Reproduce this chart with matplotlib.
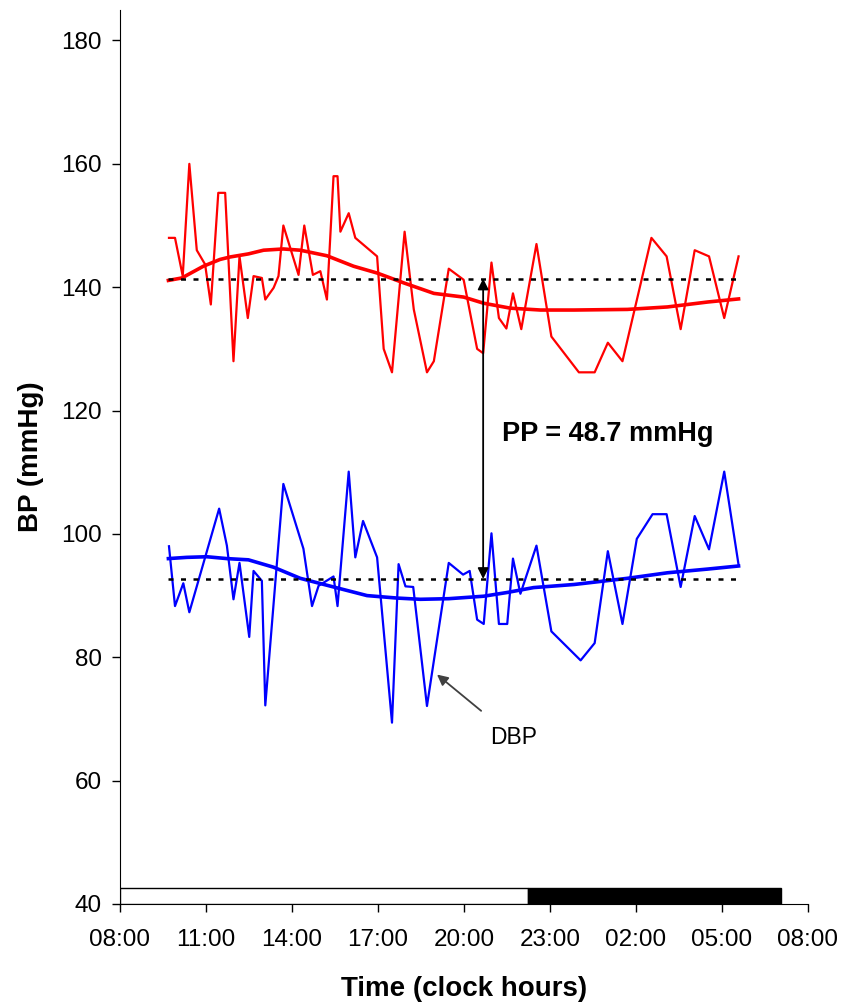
import matplotlib
matplotlib.use("Agg")
import matplotlib.pyplot as plt

plt.rcParams['font.family'] = ['Liberation Sans', 'DejaVu Sans']

# clock hours (values past 24 are next morning)
sbp_t = [9.71, 9.92, 10.19, 10.42, 10.68, 10.97, 11.17, 11.43, 11.67, 11.96,
         12.17, 12.46, 12.66, 12.95, 13.07, 13.36, 13.53, 13.70, 14.23, 14.43,
         14.73, 14.99, 15.22, 15.45, 15.59, 15.69, 15.98, 16.21, 16.97, 17.20,
         17.49, 17.93, 18.25, 18.71, 18.95, 19.47, 19.99, 20.46, 20.67, 20.96,
         21.22, 21.48, 21.71, 22.00, 22.53, 23.05, 24.01, 24.56, 25.02, 25.53,
         26.54, 27.07, 27.56, 28.05, 28.55, 29.08, 29.58]
sbp = [148, 148, 141.8, 160, 146, 143.7, 137.2, 155.3, 155.3, 128,
       145, 135, 141.8, 141.5, 138, 139.9, 141.8, 150, 142, 150,
       142, 142.6, 138, 158, 158, 149, 152, 148, 145, 130,
       126.2, 149, 136.4, 126.2, 128, 143, 141.2, 130, 129.3, 144,
       135, 133.3, 139, 133.2, 147, 132, 126.2, 126.2, 131, 128,
       148, 145, 133.2, 146, 145, 135, 145]

dbp_t = [9.71, 9.92, 10.21, 10.42, 11.46, 11.73, 11.96, 12.17, 12.51, 12.66,
         12.95, 13.07, 13.70, 14.40, 14.70, 14.93, 15.45, 15.59, 15.98, 16.21,
         16.48, 16.97, 17.49, 17.72, 17.96, 18.23, 18.71, 19.47, 19.97, 20.20,
         20.46, 20.69, 20.96, 21.22, 21.51, 21.71, 21.97, 22.53, 23.05, 24.07,
         24.56, 25.02, 25.53, 26.03, 26.58, 27.07, 27.56, 28.05, 28.55, 29.08,
         29.58]
dbp = [98, 88.3, 92, 87.3, 104.1, 98.1, 89.4, 95.3, 83.3, 94,
       92.4, 72.2, 108.1, 97.6, 88.3, 91.6, 93.1, 88.3, 110.1, 96.2,
       102.1, 96.2, 69.4, 95.1, 91.5, 91.4, 72.1, 95.3, 93.4, 94,
       86.1, 85.4, 100.1, 85.4, 85.4, 96, 90.3, 98.1, 84.2, 79.5,
       82.3, 97.2, 85.4, 99.2, 103.2, 103.2, 91.4, 102.9, 97.5, 110.1,
       95]

# trend curves
sbp_trend_t = [9.69, 10.16, 10.91, 11.49, 11.84, 12.48, 13.01, 13.70, 14.29, 15.22,
               16.15, 16.97, 17.90, 18.95, 19.99, 20.69, 21.62, 22.67, 23.84, 25.70,
               27.10, 28.50, 29.58]
sbp_trend = [141.1, 141.5, 143.4, 144.5, 144.9, 145.4, 146.0, 146.2, 146.0, 145.1,
             143.4, 142.3, 140.7, 139.0, 138.4, 137.4, 136.6, 136.3, 136.3, 136.4,
             136.8, 137.6, 138.1]
dbp_trend_t = [9.69, 10.33, 11.03, 11.73, 12.48, 13.36, 14.29, 15.45, 16.62, 17.67,
               18.48, 19.47, 20.69, 21.50, 22.43, 23.84, 25.70, 27.10, 28.50, 29.58]
dbp_trend = [96.0, 96.2, 96.3, 96.0, 95.8, 94.6, 92.8, 91.4, 90.0, 89.6,
             89.4, 89.5, 89.9, 90.5, 91.3, 91.8, 92.8, 93.7, 94.3, 94.8]

sbp_mean = 141.4
dbp_mean = 92.7
mean_span = [9.68, 29.56]

day_span = [8.0, 22.25]
night_span = [22.25, 31.06]

xticks = [8, 11, 14, 17, 20, 23, 26, 29, 32]
xlabels = ['08:00', '11:00', '14:00', '17:00', '20:00', '23:00', '02:00', '05:00', '08:00']
yticks = [40, 60, 80, 100, 120, 140, 160, 180]

fig = plt.figure(figsize=(8.46, 10.06), dpi=100)
ax = fig.add_axes([0.1418, 0.1014, 0.8132, 0.889])

ax.plot(sbp_t, sbp, color='#ff0000', lw=1.6)
ax.plot(dbp_t, dbp, color='#0000ff', lw=1.6)
ax.plot(sbp_trend_t, sbp_trend, color='#ff0000', lw=2.6)
ax.plot(dbp_trend_t, dbp_trend, color='#0000ff', lw=2.6)

ax.plot(mean_span, [sbp_mean, sbp_mean], color='black', lw=1.8, ls=(0, (2, 3)))
ax.plot(mean_span, [dbp_mean, dbp_mean], color='black', lw=1.8, ls=(0, (2, 3)))

# day / night bar along the bottom
ax.barh(41.3, day_span[1] - day_span[0], left=day_span[0], height=2.6,
        color='white', edgecolor='black', lw=1.0, zorder=3)
ax.barh(41.3, night_span[1] - night_span[0], left=night_span[0], height=2.6,
        color='black', edgecolor='black', lw=1.0, zorder=3)

# pulse pressure arrow
ax.annotate('', xy=(20.67, sbp_mean), xytext=(20.67, dbp_mean),
            arrowprops=dict(arrowstyle='<|-|>', color='black', lw=1.3,
                            mutation_scale=16, shrinkA=0, shrinkB=0))
ax.text(21.33, 116.2, 'PP = 48.7 mmHg', fontsize=19.5, fontweight='bold',
        ha='left', va='center')

ax.annotate('DBP', xy=(19.06, 77.2), xytext=(21.73, 67.0), fontsize=16.5,
            ha='center', va='center',
            arrowprops=dict(arrowstyle='-|>', color='#404040', lw=1.3,
                            mutation_scale=16, shrinkA=14, shrinkB=0))

ax.set_xlim(8, 32)
ax.set_ylim(40, 185)
ax.set_xticks(xticks)
ax.set_xticklabels(xlabels)
ax.set_yticks(yticks)

ax.spines['top'].set_visible(False)
ax.spines['right'].set_visible(False)
ax.tick_params(axis='x', direction='out', length=6, width=1, labelsize=17.5, pad=12)
ax.tick_params(axis='y', direction='out', length=6, width=1, labelsize=17.5, pad=7)

ax.set_xlabel('Time (clock hours)', fontsize=20, fontweight='bold', labelpad=18)
ax.set_ylabel('BP (mmHg)', fontsize=20, fontweight='bold', labelpad=12)

fig.savefig('out.png', dpi=100)
